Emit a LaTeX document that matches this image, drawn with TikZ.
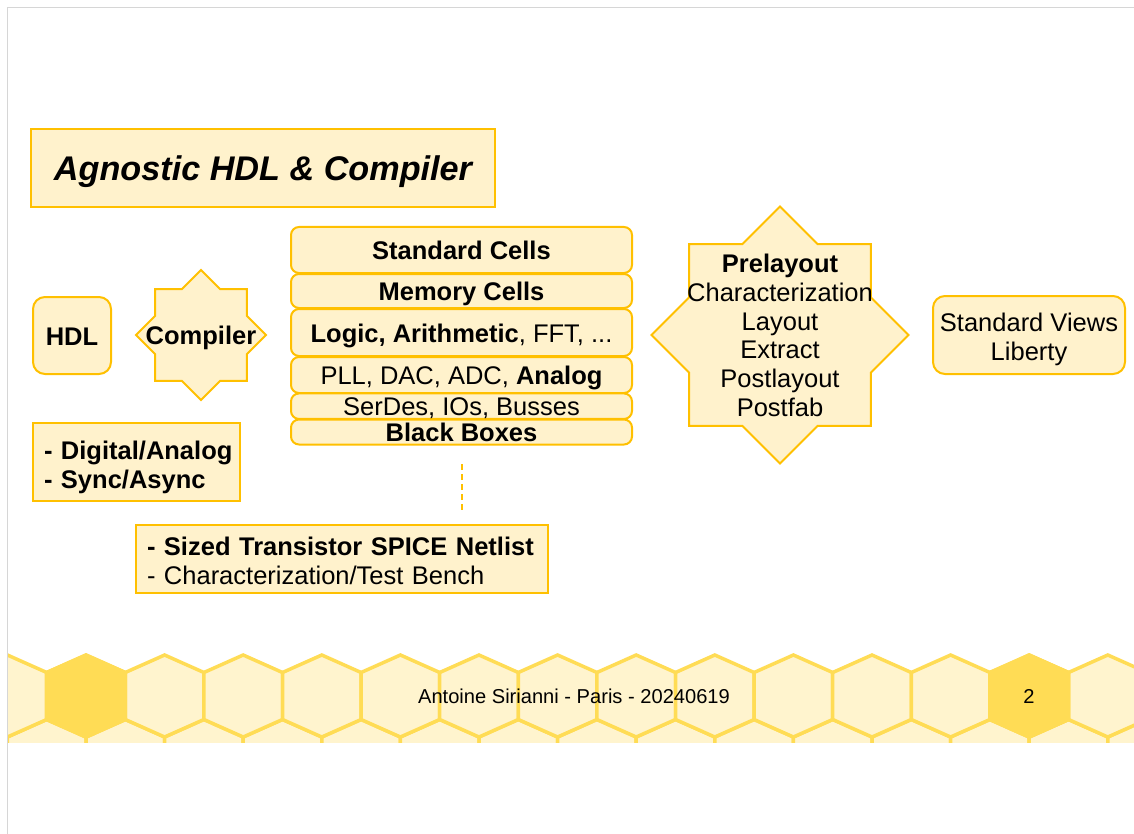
\documentclass[tikz,border=0pt]{standalone}
\usepackage{fontspec}
\setmainfont{Liberation Sans}
\definecolor{boxfill}{HTML}{FFF2CC}
\definecolor{boxline}{HTML}{FFC000}
\definecolor{hexline}{HTML}{FFDC55}
\definecolor{hexfill}{HTML}{FFF4CE}
\definecolor{slideline}{HTML}{D6D6D6}
\newcommand\bodyfont{\fontsize{25.5}{29}\selectfont}
\newcommand\footfont{\fontsize{20.1}{24}\selectfont}
\tikzset{
  box/.style={draw=boxline, fill=boxfill, line width=2pt, inner sep=0pt, font=\bodyfont, align=center},
  oneline/.style={text height=19.4pt, text depth=0pt},
  rbox/.style={box, rounded corners=12pt},
  cell/.style={box, oneline, rounded corners=8pt, minimum width=341pt},
  starshape/.style={draw=boxline, fill=boxfill, line width=2pt, line join=miter},
  hex/.style={draw=hexline, line width=3.5pt, fill=hexfill, line join=miter},
  hexhi/.style={hex, fill=hexline},
  plain/.style={inner sep=0pt, font=\bodyfont, align=center},
  foot/.style={inner sep=0pt, font=\footfont},
  link/.style={draw=boxline, line width=2pt, dash pattern=on 6pt off 4pt}
}
\begin{document}
\begin{tikzpicture}[x=1pt,y=-1pt]
\useasboundingbox (0,0) rectangle (1134,834);
\fill[white] (0,0) rectangle (1134,834);

% honeycomb footer band
\begin{scope}
  \clip (8,640) rectangle (1134,742);
  \foreach \k in {-2,...,14} {
    \pgfmathsetmacro\cx{86+39.3+78.6*\k}
    \draw[hex] (\cx,719.5) -- ++(39.3,17.5) -- ++(0,47) -- ++(-39.3,17.5) -- ++(-39.3,-17.5) -- ++(0,-47) -- cycle;
  }
  \foreach \k in {-2,...,14} {
    \pgfmathsetmacro\cx{86+78.6*\k}
    \draw[hex] (\cx,655) -- ++(39.3,17.5) -- ++(0,47) -- ++(-39.3,17.5) -- ++(-39.3,-17.5) -- ++(0,-47) -- cycle;
  }
  \foreach \k in {0,12} {
    \pgfmathsetmacro\cx{86+78.6*\k}
    \draw[hexhi] (\cx,655) -- ++(39.3,17.5) -- ++(0,47) -- ++(-39.3,17.5) -- ++(-39.3,-17.5) -- ++(0,-47) -- cycle;
  }
\end{scope}
\node[foot] (footer) at (574,696) {Antoine Sirianni - Paris - 20240619};
\node[foot] (pagenum) at (1029,696) {2};

% slide border
\draw[slideline, line width=1.5pt] (7.5,834) -- (7.5,7.5) -- (1134,7.5);

% title
\node[box, minimum width=464pt, minimum height=78pt, text height=25.7pt, text depth=0pt, font=\fontsize{34.2}{40}\selectfont\bfseries\itshape] (title) at (263,168) {Agnostic HDL \& Compiler};

% left column
\node[rbox, oneline, minimum width=78pt, minimum height=77pt, font=\bodyfont\bfseries] (hdl) at (72,335.5) {HDL};

\draw[starshape, shift={(201,335)}] plot[samples at={0,1,...,15}, variable=\k] ({90+22.5*\k}:{57.375+7.625*cos(180*\k)}) -- cycle;
\node[plain, oneline, font=\bodyfont\bfseries] (comp) at (201,335) {Compiler};

\node[box, minimum width=207pt, minimum height=78pt, text width=185pt, inner xsep=11pt, align=left, font=\bodyfont\bfseries] (digi) at (136.5,462) {\rule{0pt}{28.6pt}\mbox{- Digital/Analog}\\\mbox{- Sync/Async}};

% stacked cells
\node[cell, minimum height=46pt, font=\bodyfont\bfseries] (std) at (461.5,250) {Standard Cells};
\node[cell, minimum height=34pt, font=\bodyfont\bfseries] (mem) at (461.5,291) {Memory Cells};
\node[cell, minimum height=47pt] (logic) at (461.5,332.5) {\textbf{Logic, Arithmetic}, FFT, ...};
\node[cell, minimum height=36pt] (pll) at (461.5,375) {PLL, DAC, ADC, \textbf{Analog}};
\node[cell, minimum height=25.5pt] (serdes) at (461.5,406.2) {SerDes, IOs, Busses};
\node[cell, minimum height=25pt, font=\bodyfont\bfseries] (black) at (461.5,432) {Black Boxes};

\node[box, minimum width=412pt, minimum height=68pt, text width=390pt, inner xsep=11pt, align=left] (spice) at (342,559) {\rule{0pt}{22.6pt}\mbox{\textbf{- Sized Transistor SPICE Netlist}}\\\mbox{- Characterization/Test Bench}};

\draw[link, shorten <=18.5pt, shorten >=12pt] (black.south) -- (black.south |- spice.north);

% big star
\draw[starshape, shift={(780,335)}] plot[samples at={0,1,...,15}, variable=\k] ({90+22.5*\k}:{113.425+15.075*cos(180*\k)}) -- cycle;
\node[plain, font=\fontsize{25.5}{28.7}\selectfont] (views) at (780,335.5) {\textbf{Prelayout}\\Characterization\\Layout\\Extract\\Postlayout\\Postfab};

% right box
\node[rbox, minimum width=192pt, minimum height=78pt] (liberty) at (1029,335) {\rule{0pt}{26.6pt}Standard Views\\Liberty};
\end{tikzpicture}
\end{document}
